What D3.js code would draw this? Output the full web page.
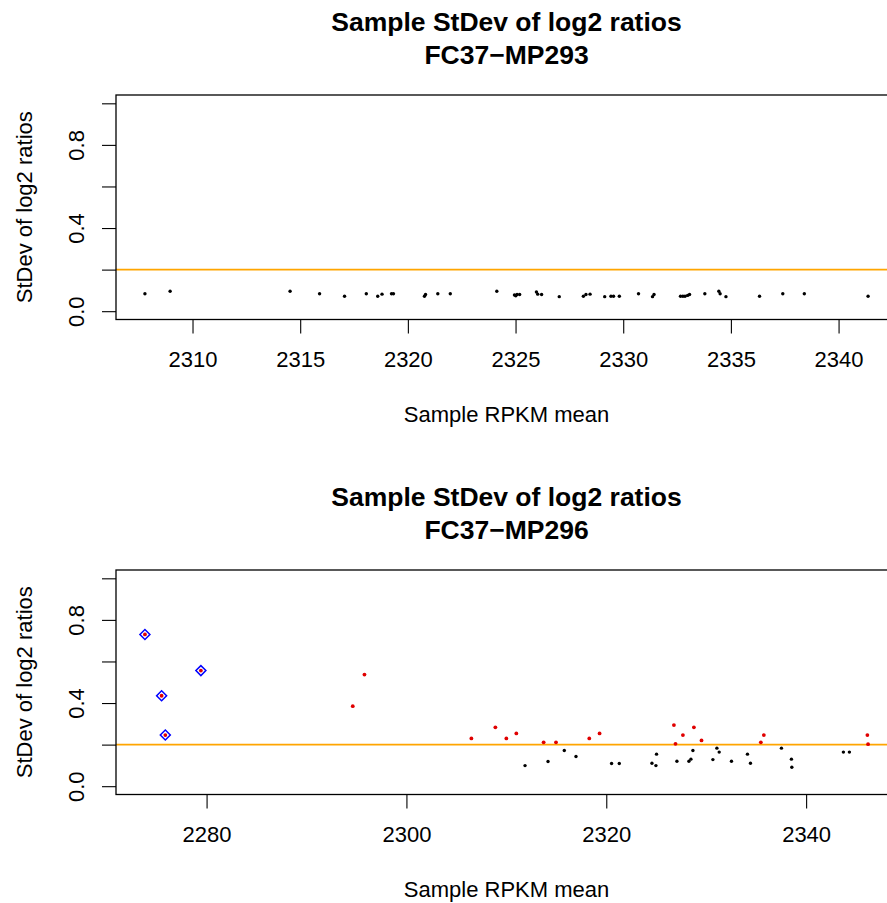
<!DOCTYPE html>
<html>
<head>
<meta charset="utf-8">
<script src="https://cdn.jsdelivr.net/npm/d3@7"></script>
<style>
  body { margin: 0; background: #fff; }
  svg text { font-family: "Liberation Sans", Arial, Helvetica, sans-serif; fill: #000; }
</style>
</head>
<body>
<svg id="chart" width="887" height="903"></svg>
<script>
// threshold drawn as the orange line
var THRESHOLD = 0.2;

var yTicks = [0, 0.2, 0.4, 0.6, 0.8, 1.0];
var yLabels = ["0.0", "", "0.4", "", "0.8", ""];

// FC37-MP293
var topMean = [2307.79, 2308.96, 2314.53, 2315.90, 2317.06, 2318.07, 2318.60, 2318.80,
  2319.24, 2319.33, 2320.77, 2320.82, 2321.39, 2321.97, 2324.13, 2324.95, 2325.01,
  2325.07, 2325.19, 2325.97, 2326.03, 2326.21, 2327.03, 2328.15, 2328.27, 2328.46,
  2329.14, 2329.43, 2329.55, 2329.82, 2330.71, 2331.36, 2331.43, 2332.66, 2332.77,
  2332.87, 2332.99, 2333.08, 2333.79, 2334.44, 2334.50, 2334.77, 2336.33, 2337.41,
  2338.41, 2341.37];
var topSd = [0.084, 0.096, 0.096, 0.084, 0.072, 0.084, 0.072, 0.082,
  0.084, 0.084, 0.072, 0.080, 0.084, 0.084, 0.096, 0.078, 0.074,
  0.080, 0.080, 0.092, 0.082, 0.080, 0.070, 0.072, 0.080, 0.082,
  0.070, 0.072, 0.072, 0.072, 0.084, 0.070, 0.080, 0.072, 0.072,
  0.072, 0.076, 0.080, 0.084, 0.096, 0.084, 0.070, 0.072, 0.084,
  0.084, 0.072];
var topXTicks = [2310, 2315, 2320, 2325, 2330, 2335, 2340];

// FC37-MP296
var botMean = [2273.83, 2275.50, 2275.87, 2279.43, 2294.63, 2295.80, 2306.50, 2308.90,
  2310.00, 2311.00, 2311.87, 2313.73, 2314.17, 2314.97, 2315.80, 2316.97, 2318.30,
  2319.33, 2320.53, 2321.30, 2324.57, 2324.97, 2325.03, 2326.77, 2326.93, 2327.07,
  2327.67, 2328.27, 2328.47, 2328.67, 2328.77, 2329.53, 2330.67, 2331.07, 2331.30,
  2332.53, 2334.13, 2334.43, 2335.47, 2335.77, 2337.53, 2338.53, 2338.57, 2343.73,
  2344.33, 2346.13, 2346.20];
var botSd = [0.730, 0.435, 0.246, 0.556, 0.385, 0.537, 0.230, 0.283,
  0.230, 0.254, 0.099, 0.211, 0.119, 0.211, 0.172, 0.143, 0.230,
  0.254, 0.109, 0.109, 0.110, 0.099, 0.154, 0.294, 0.204, 0.120,
  0.246, 0.120, 0.130, 0.172, 0.283, 0.220, 0.128, 0.183, 0.164,
  0.120, 0.154, 0.110, 0.211, 0.246, 0.183, 0.130, 0.091, 0.164,
  0.164, 0.246, 0.202];
// samples flagged with a diamond
var botOutliers = [2273.83, 2275.50, 2275.87, 2279.43];
var botXTicks = [2280, 2300, 2320, 2340];

(function () {
  var panels = [
    {name: "FC37\u2212MP293", mean: topMean, sd: topSd, ticks: topXTicks, outliers: [], colorize: false},
    {name: "FC37\u2212MP296", mean: botMean, sd: botSd, ticks: botXTicks, outliers: botOutliers, colorize: true}
  ];

  var svg = d3.select("#chart"),
      PANEL_H = 475,
      x0 = 116, x1 = 897, y0 = 95, y1 = 319.5;

  // R style 4% padding on the data range
  function padded(ext) {
    var d = (ext[1] - ext[0]) * 0.04;
    return [ext[0] - d, ext[1] + d];
  }

  panels.forEach(function (p, i) {
    var g = svg.append("g").attr("transform", "translate(0," + (i * PANEL_H) + ")"),
        pts = p.mean.map(function (m, j) { return {x: m, y: p.sd[j]}; }),
        x = d3.scaleLinear().domain(padded(d3.extent(p.mean))).range([x0, x1]),
        y = d3.scaleLinear().domain([-0.04, 1.04]).range([y1, y0]),
        cx = (x0 + x1) / 2;

    // titles
    g.append("text").attr("x", cx).attr("y", 30.5)
      .attr("text-anchor", "middle").style("font-size", "26.5px").style("font-weight", "bold")
      .text("Sample StDev of log2 ratios");
    g.append("text").attr("x", cx).attr("y", 64)
      .attr("text-anchor", "middle").style("font-size", "26.5px").style("font-weight", "bold")
      .text(p.name);

    // x axis
    var xa = g.append("g").attr("transform", "translate(0," + y1 + ")")
      .call(d3.axisBottom(x).tickValues(p.ticks).tickSize(14).tickSizeOuter(0).tickFormat(d3.format("d")));
    xa.select(".domain").remove();
    xa.selectAll("line").attr("stroke", "#000").attr("stroke-width", 1.1);
    xa.selectAll("text").attr("y", 47).attr("dy", 0).style("font-size", "22px");
    xa.attr("font-family", null);

    // y axis
    var ya = g.append("g").attr("transform", "translate(" + x0 + ",0)")
      .call(d3.axisLeft(y).tickValues(yTicks).tickSize(14).tickSizeOuter(0)
        .tickFormat(function (d, k) { return yLabels[k]; }));
    ya.select(".domain").remove();
    ya.selectAll("line").attr("stroke", "#000").attr("stroke-width", 1.1);
    ya.selectAll("text").attr("transform", "rotate(-90)")
      .attr("x", 0).attr("y", -32.5).attr("dy", 0)
      .attr("text-anchor", "middle").style("font-size", "22px");
    ya.attr("font-family", null);

    // axis titles
    g.append("text").attr("x", cx).attr("y", 422)
      .attr("text-anchor", "middle").style("font-size", "22px").text("Sample RPKM mean");
    g.append("text").attr("transform", "translate(32," + ((y0 + y1) / 2) + ") rotate(-90)")
      .attr("text-anchor", "middle").style("font-size", "22px").text("StDev of log2 ratios");

    // threshold line
    g.append("line").attr("x1", x0).attr("x2", x1)
      .attr("y1", y(THRESHOLD)).attr("y2", y(THRESHOLD))
      .attr("stroke", "#FFA500").attr("stroke-width", 1.6);

    // points
    g.selectAll("circle.pt").data(pts).enter().append("circle")
      .attr("class", "pt")
      .attr("cx", function (d) { return x(d.x); })
      .attr("cy", function (d) { return y(d.y); })
      .attr("r", function (d) { return p.colorize && d.y > THRESHOLD ? 1.9 : 1.7; })
      .attr("fill", function (d) { return p.colorize && d.y > THRESHOLD ? "#e00000" : "#000"; });

    // flagged samples
    g.selectAll("path.out").data(pts.filter(function (d) { return p.outliers.indexOf(d.x) >= 0; }))
      .enter().append("path")
      .attr("class", "out")
      .attr("d", d3.symbol(d3.symbolSquare, 50)())
      .attr("transform", function (d) { return "translate(" + x(d.x) + "," + y(d.y) + ") rotate(45)"; })
      .attr("fill", "none").attr("stroke", "#0000ff").attr("stroke-width", 1.5);

    // box
    g.append("rect").attr("x", x0).attr("y", y0)
      .attr("width", x1 - x0).attr("height", y1 - y0)
      .attr("fill", "none").attr("stroke", "#000").attr("stroke-width", 1.3);
  });
}());
</script>
</body>
</html>
